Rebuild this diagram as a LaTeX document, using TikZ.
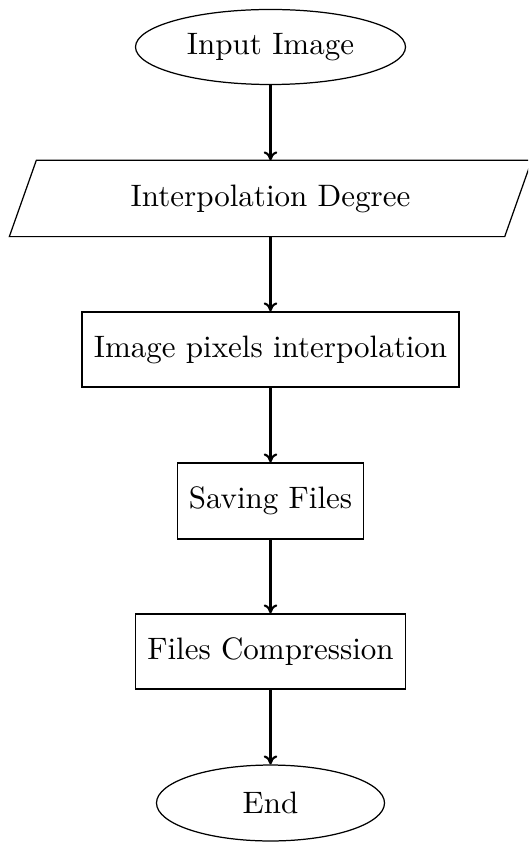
\documentclass[tikz,border=0pt]{standalone}
\usetikzlibrary{shapes.geometric,arrows.meta}
\begin{document}
\begin{tikzpicture}[x=0.32258pt,y=-0.32258pt,
  base/.style={font=\normalsize, inner sep=0pt, line width=0.4pt, align=center},
  term/.style={base, draw, ellipse},
  procbox/.style={base, draw, rectangle},
  iobox/.style={base, rectangle},
  flow/.style={-{To[length=2.9pt,width=4.4pt]}, line width=0.7pt}]
  \useasboundingbox (0,0) rectangle (528,842);
  \clip (0,0) rectangle (528,842);

  % flowchart steps, evenly spaced down the page
  \node[term, minimum width=87.1pt, minimum height=24.2pt] (start) at (270.5,47) {Input Image};
  \node[iobox, minimum width=159.4pt, minimum height=24.2pt] (deg) at (270.5,198.5) {Interpolation Degree};
  \node[procbox, minimum width=121.6pt, minimum height=24.2pt] (interp) at (270.5,349.5) {Image pixels interpolation};
  \node[procbox, minimum width=60pt, minimum height=24.5pt] (save) at (270.5,501) {Saving Files};
  \node[procbox, minimum width=87.1pt, minimum height=24.2pt] (comp) at (270.5,651.5) {Files Compression};
  \node[term, minimum width=73.55pt, minimum height=24.5pt] (end) at (270.5,803) {End};

  % slanted input/output outline around the degree node
  \draw[line width=0.4pt] ([xshift=4.35pt]deg.north west) -- ([xshift=4.35pt]deg.north east)
    -- ([xshift=-4.35pt]deg.south east) -- ([xshift=-4.35pt]deg.south west) -- cycle;

  % connectors
  \draw[flow] (start) -- (deg);
  \draw[flow] (deg) -- (interp);
  \draw[flow] (interp) -- (save);
  \draw[flow] (save) -- (comp);
  \draw[flow] (comp) -- (end);
\end{tikzpicture}
\end{document}
